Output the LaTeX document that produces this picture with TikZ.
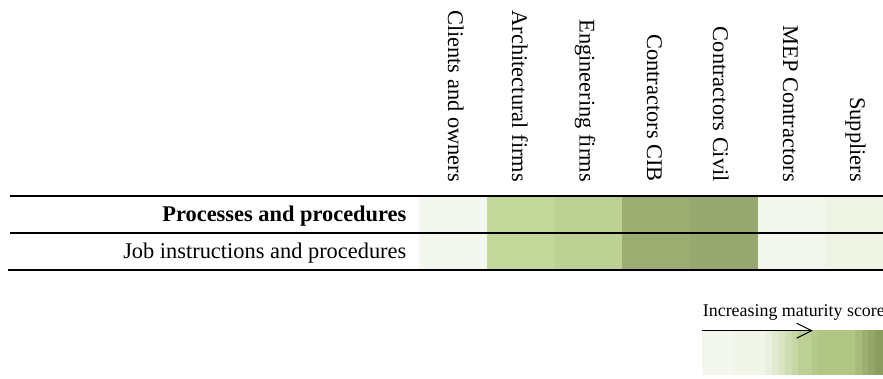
\documentclass[tikz,border=0pt]{standalone}
\usepackage{fontspec}
\setmainfont{Liberation Serif}
\usetikzlibrary{arrows.meta}

% maturity levels, light to dark
\definecolor{lvClients}{HTML}{F4F7ED}
\definecolor{lvArch}{HTML}{C4D89B}
\definecolor{lvEng}{HTML}{BDD194}
\definecolor{lvCIB}{HTML}{9CAD72}
\definecolor{lvCivil}{HTML}{96A86D}
\definecolor{lvMEP}{HTML}{F4F7ED}
\definecolor{lvSupp}{HTML}{EFF3E4}

\begin{document}
\begin{tikzpicture}[x=1pt,y=-1pt,
  cell/.style={anchor=north west, minimum width=67.7pt, minimum height=37pt,
               inner sep=0pt, outer sep=0pt},
  colhead/.style={rotate=-90, anchor=base east, inner sep=0pt,
                  font=\fontsize{22.4}{26}\selectfont},
  rowhead/.style={anchor=base east, inner sep=0pt,
                  font=\fontsize{22.4}{26}\selectfont},
  rulebar/.style={line width=1.8pt},
  legendtext/.style={anchor=base west, inner sep=0pt,
                     font=\fontsize{17.9}{21}\selectfont},
  scorearrow/.style={line width=1pt, -{Straight Barb[length=15pt,width=15pt,line width=1pt]}}]

\useasboundingbox (0,0) rectangle (883,378);

% column headings (baseline x given per column) and cells
\foreach \i/\xb/\lbl/\col in {1/448/Clients and owners/lvClients,
                              2/512/Architectural firms/lvArch,
                              3/579.5/Engineering firms/lvEng,
                              4/647/Contractors CIB/lvCIB,
                              5/713/Contractors Civil/lvCivil,
                              6/783/MEP Contractors/lvMEP,
                              7/850/Suppliers/lvSupp}{
  \pgfmathsetmacro{\xl}{419+67.7*(\i-1)}
  \node[colhead] (h\i) at (\xb,182) {\lbl};
  \node[cell, fill=\col] (c1-\i) at (\xl,195.7) {};
  \node[cell, fill=\col] (c2-\i) at (\xl,232.7) {};
}

% row headings
\node[rowhead] (r1) at (406.5,221) {\textbf{Processes and procedures}};
\node[rowhead] (r2) at (406.5,258) {Job instructions and procedures};

% horizontal rules
\draw[rulebar] (10,195.7) -- (883,195.7);
\draw[rulebar] (10,232.7) -- (883,232.7);
\draw[rulebar, line width=2pt] (8,269.7) -- (883,269.7);

% legend: colour scale
\foreach \xa/\xc/\c in {702/733/F4F7EE, 733/765/F1F5E8, 765/772/EAF0DE,
                        772/778/E2EBD1, 778/785/D9E5C3, 785/792/CFDDB4,
                        792/798/C7D8A6, 798/812/BCD096, 812/818/B5C98B,
                        818/855/B1C584, 855/862/A7BB7B, 862/868/9DB072,
                        868/875/94A768, 875/884/8A9D5E}{
  \definecolor{bandc}{HTML}{\c}
  \fill[bandc] (\xa,330) rectangle (\xc,375);
}

\node[legendtext] (leg) at (702.7,316.7) {Increasing maturity score};
\coordinate (arrS) at (702,330.7);
\coordinate (arrE) at (812.7,330.7);
\draw[scorearrow] (arrS) -- (arrE);
\end{tikzpicture}
\end{document}
